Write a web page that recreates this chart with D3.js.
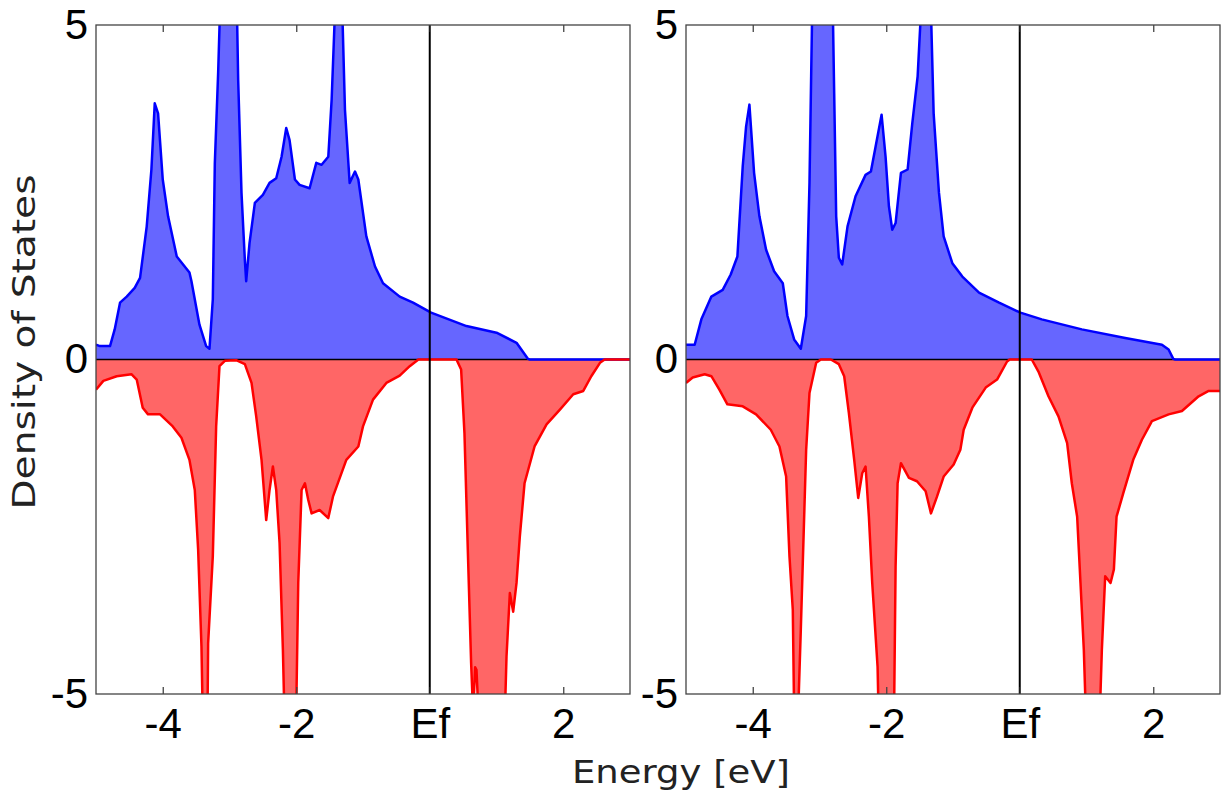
<!DOCTYPE html>
<html>
<head>
<meta charset="utf-8">
<title>Density of States</title>
<style>
  body { margin: 0; background: #fff; }
  svg { display: block; }
  .tick text { font-family: "Liberation Sans", Arial, sans-serif; font-size: 42px; fill: #000; }
  .axis-label { font-family: "DejaVu Sans", Verdana, sans-serif; font-size: 32px; fill: #222; }
</style>
</head>
<body>
<script src="https://cdn.jsdelivr.net/npm/d3@7"></script>
<script>
// energy axis ticks, 0 is the Fermi level
var xTicks = [-4, -2, 0, 2];
var yTicks = [-5, 0, 5];

// left panel, spin up
var leftUpE = [-5.0,-4.94,-4.79,-4.72,-4.64,-4.54,-4.42,-4.34,-4.24,-4.17,-4.12,-4.07,-4.0,-3.92,-3.79,-3.6,-3.57,-3.45,-3.35,-3.3,-3.25,-3.22,-3.17,-3.14,-3.05,-2.95,-2.89,-2.87,-2.82,-2.77,-2.75,-2.7,-2.62,-2.5,-2.4,-2.3,-2.22,-2.15,-2.1,-2.02,-1.95,-1.8,-1.7,-1.62,-1.52,-1.47,-1.42,-1.37,-1.31,-1.27,-1.2,-1.12,-1.07,-0.95,-0.82,-0.7,-0.45,-0.25,0.02,0.55,1.0,1.3,1.47,1.5,3.0];
var leftUpDos = [0.22,0.2,0.2,0.45,0.85,0.94,1.07,1.22,1.99,2.84,3.83,3.68,2.69,2.14,1.54,1.3,1.17,0.52,0.2,0.16,0.9,2.93,4.29,5.3,9,7,5.3,4.18,2.49,1.49,1.17,1.74,2.34,2.46,2.64,2.71,3.03,3.46,3.28,2.69,2.61,2.56,2.94,2.91,3.03,3.88,5.2,6,5.2,3.73,2.64,2.81,2.69,1.84,1.39,1.14,0.94,0.85,0.7,0.5,0.4,0.25,0.01,0,0];

// left panel, spin down
var leftDownE = [-5.0,-4.89,-4.69,-4.47,-4.39,-4.3,-4.22,-4.04,-3.85,-3.72,-3.6,-3.52,-3.47,-3.42,-3.38,-3.34,-3.32,-3.25,-3.2,-3.15,-3.07,-2.9,-2.77,-2.67,-2.6,-2.52,-2.45,-2.4,-2.35,-2.3,-2.25,-2.2,-2.15,-2.02,-1.97,-1.92,-1.87,-1.82,-1.77,-1.65,-1.52,-1.45,-1.25,-1.07,-1.0,-0.85,-0.65,-0.45,-0.3,-0.17,0.4,0.47,0.52,0.57,0.62,0.65,0.68,0.7,0.74,0.9,1.12,1.15,1.2,1.25,1.3,1.35,1.42,1.57,1.75,1.95,2.15,2.3,2.42,2.55,2.62,3.0];
var leftDownDos = [-0.45,-0.32,-0.25,-0.22,-0.3,-0.72,-0.82,-0.82,-1.0,-1.17,-1.5,-1.95,-2.84,-4.29,-6.5,-6.5,-4.24,-2.94,-1.0,-0.1,-0.02,-0.01,-0.07,-0.35,-0.85,-1.5,-2.4,-1.95,-1.6,-1.95,-2.74,-4.34,-6.5,-6.5,-3.34,-1.95,-1.85,-2.1,-2.3,-2.25,-2.37,-2.05,-1.5,-1.3,-1.0,-0.6,-0.35,-0.24,-0.1,0,0,-0.15,-1.1,-2.84,-4.54,-5.3,-4.6,-4.64,-5.5,-7,-5.5,-4.44,-3.49,-3.77,-3.34,-2.64,-1.85,-1.3,-0.97,-0.75,-0.52,-0.47,-0.25,-0.05,0,0];

// right panel, spin up
var rightUpE = [-5.0,-4.87,-4.77,-4.62,-4.45,-4.33,-4.23,-4.15,-4.1,-4.05,-3.98,-3.9,-3.8,-3.68,-3.55,-3.48,-3.38,-3.28,-3.2,-3.15,-3.11,-3.0,-2.85,-2.8,-2.78,-2.75,-2.71,-2.66,-2.58,-2.46,-2.31,-2.23,-2.16,-2.07,-2.01,-1.96,-1.91,-1.86,-1.78,-1.68,-1.61,-1.53,-1.48,-1.4,-1.33,-1.29,-1.21,-1.14,-1.01,-0.86,-0.61,-0.31,0.01,0.33,0.93,1.58,2.13,2.23,2.3,2.33,3.0];
var rightUpDos = [0.22,0.22,0.6,0.94,1.04,1.27,1.54,2.89,3.48,3.81,2.79,2.14,1.64,1.32,1.14,0.65,0.3,0.16,0.65,2.64,5.2,9,7,5.2,3.98,2.14,1.52,1.42,1.99,2.44,2.76,2.81,3.18,3.66,3.03,2.29,1.94,2.04,2.79,2.84,3.53,4.23,5.2,6.5,5.2,3.68,2.49,1.84,1.44,1.24,1.0,0.85,0.7,0.6,0.45,0.32,0.22,0.15,0.01,0,0];

// right panel, spin down
var rightDownE = [-5.0,-4.9,-4.72,-4.62,-4.5,-4.38,-4.15,-3.95,-3.73,-3.6,-3.5,-3.45,-3.4,-3.38,-3.35,-3.32,-3.28,-3.2,-3.15,-3.05,-2.98,-2.83,-2.71,-2.63,-2.56,-2.48,-2.42,-2.36,-2.31,-2.26,-2.21,-2.13,-2.1,-1.89,-1.86,-1.83,-1.78,-1.66,-1.54,-1.41,-1.33,-1.24,-1.14,-0.99,-0.89,-0.84,-0.71,-0.51,-0.34,-0.19,-0.15,0.18,0.28,0.43,0.58,0.71,0.78,0.86,0.91,0.96,0.99,1.1,1.2,1.23,1.28,1.36,1.41,1.45,1.55,1.7,1.83,1.98,2.23,2.43,2.68,2.83,3.0];
var rightDownDos = [-0.35,-0.27,-0.22,-0.25,-0.45,-0.67,-0.7,-0.82,-1.05,-1.3,-1.75,-2.94,-3.74,-5.3,-6,-5.3,-4.04,-1.35,-0.5,-0.05,0,0,-0.07,-0.25,-0.8,-1.5,-2.07,-1.7,-1.6,-2.35,-3.34,-4.59,-6,-6,-3.09,-1.85,-1.55,-1.77,-1.82,-1.97,-2.3,-2.05,-1.75,-1.57,-1.35,-1.05,-0.72,-0.42,-0.3,-0.03,0,0,-0.18,-0.55,-0.85,-1.25,-1.85,-2.35,-3.34,-4.34,-5.3,-7,-5.3,-4.34,-3.24,-3.34,-3.14,-2.35,-2.0,-1.5,-1.2,-0.92,-0.82,-0.77,-0.55,-0.47,-0.47];

var W = 1225, H = 795;
var plotTop = 25, plotBottom = 694, panelW = 534, gap = 56, left0 = 96;

var svg = d3.select("body").append("svg")
    .attr("width", W)
    .attr("height", H);

var y = d3.scaleLinear().domain([-5, 5]).range([plotBottom, plotTop]);

function zip(es, ds) {
    return es.map(function(e, i){ return [e, ds[i]]; });
}

var panels = [
    {up: zip(leftUpE, leftUpDos), down: zip(leftDownE, leftDownDos)},
    {up: zip(rightUpE, rightUpDos), down: zip(rightDownE, rightDownDos)}
];

// plain hyphen for negatives, like the original
var num = function(d){ return String(d); };

panels.forEach(function(p, k){
    var x0 = left0 + k * (panelW + gap);
    var x = d3.scaleLinear().domain([-5, 3]).range([x0, x0 + panelW]);

    var g = svg.append("g");

    svg.append("clipPath").attr("id", "clip" + k)
      .append("rect")
        .attr("x", x0).attr("y", plotTop)
        .attr("width", panelW).attr("height", plotBottom - plotTop);

    var area = d3.area()
        .x(function(d){ return x(d[0]); })
        .y0(y(0))
        .y1(function(d){ return y(d[1]); });
    var line = d3.line()
        .x(function(d){ return x(d[0]); })
        .y(function(d){ return y(d[1]); });

    var c = g.append("g").attr("clip-path", "url(#clip" + k + ")");

    c.append("path").attr("d", area(p.up)).attr("fill", "#6666ff");
    c.append("path").attr("d", area(p.down)).attr("fill", "#ff6666");

    // zero line
    c.append("line")
        .attr("x1", x0).attr("x2", x0 + panelW)
        .attr("y1", y(0)).attr("y2", y(0))
        .attr("stroke", "#000").attr("stroke-width", 1.5);

    c.append("path").attr("d", line(p.up))
        .attr("fill", "none").attr("stroke", "#0000ff")
        .attr("stroke-width", 2.5).attr("stroke-linejoin", "round");
    c.append("path").attr("d", line(p.down))
        .attr("fill", "none").attr("stroke", "#ff0000")
        .attr("stroke-width", 2.5).attr("stroke-linejoin", "round");

    // Fermi level
    g.append("line")
        .attr("x1", x(0)).attr("x2", x(0))
        .attr("y1", plotTop).attr("y2", plotBottom)
        .attr("stroke", "#000").attr("stroke-width", 2);

    // axes
    var fmt = function(d){ return d === 0 ? "Ef" : num(d); };
    var xb = g.append("g")
        .attr("transform", "translate(0," + plotBottom + ")")
        .call(d3.axisBottom(x).tickValues(xTicks).tickFormat(fmt)
            .tickSizeInner(-7).tickSizeOuter(0).tickPadding(14));
    var xt = g.append("g")
        .attr("transform", "translate(0," + plotTop + ")")
        .call(d3.axisTop(x).tickValues(xTicks).tickFormat("")
            .tickSizeInner(-7).tickSizeOuter(0));
    var yl = g.append("g")
        .attr("transform", "translate(" + x0 + ",0)")
        .call(d3.axisLeft(y).tickValues(yTicks).tickFormat(num)
            .tickSizeInner(0).tickSizeOuter(0).tickPadding(8));
    [xb, xt, yl].forEach(function(a){
        a.select(".domain").remove();
        a.selectAll(".tick line").attr("stroke", "#444").attr("stroke-width", 1.3);
    });

    g.append("rect")
        .attr("x", x0).attr("y", plotTop)
        .attr("width", panelW).attr("height", plotBottom - plotTop)
        .attr("fill", "none").attr("stroke", "#444").attr("stroke-width", 1.3);
});

svg.append("text")
    .attr("class", "axis-label")
    .attr("text-anchor", "middle")
    .attr("transform", "translate(35,342) rotate(-90)")
    .attr("textLength", 335).attr("lengthAdjust", "spacingAndGlyphs")
    .text("Density of States");

svg.append("text")
    .attr("class", "axis-label")
    .attr("text-anchor", "middle")
    .attr("x", 681).attr("y", 783)
    .attr("textLength", 218).attr("lengthAdjust", "spacingAndGlyphs")
    .text("Energy [eV]");
</script>
</body>
</html>
